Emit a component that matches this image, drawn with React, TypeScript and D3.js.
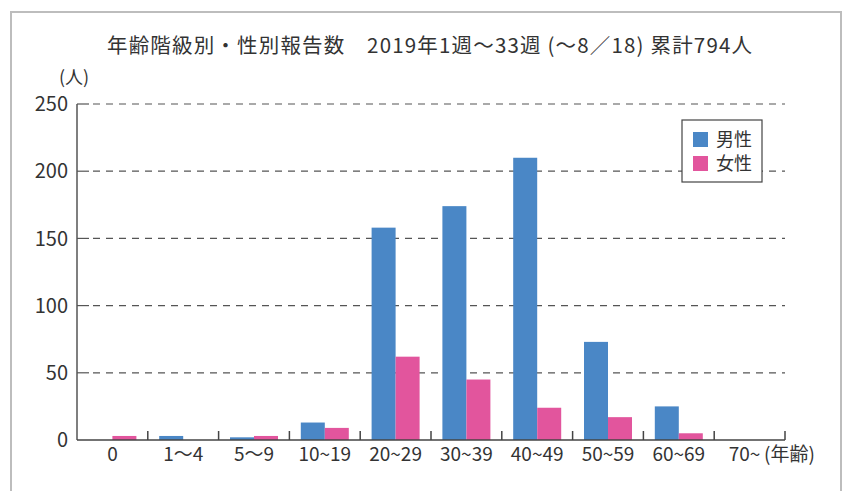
import React, { useEffect, useRef } from "react"
import * as d3 from "d3"

const ageGroups = ["0", "1～4", "5～9", "10~19", "20~29", "30~39", "40~49", "50~59", "60~69", "70~"]
const maleCounts = [0, 3, 2, 13, 158, 174, 210, 73, 25, 0]
const femaleCounts = [3, 0, 3, 9, 62, 45, 24, 17, 5, 0]
const seriesNames = ["男性", "女性"]
const seriesColors = ["#4a87c6", "#e2559d"]
const yTicks = [0, 50, 100, 150, 200, 250]
const title = "年齢階級別・性別報告数　2019年1週～33週 (～8／18) 累計794人"

const FONT = "'Noto Sans CJK JP', 'Noto Sans', sans-serif"

const App = () => {
    const chartRef = useRef<SVGSVGElement | null>(null)

    useEffect(() => {
        renderChart()
    }, [])

    function renderChart() {
        if (!chartRef.current) return
        const svg = d3.select(chartRef.current)
        svg.selectAll("*").remove()

        const left = 77
        const right = 785
        const top = 104
        const bottom = 440

        // frame around the figure
        svg.append("path")
            .attr("d", "M11,491V12H841V491")
            .attr("fill", "none")
            .attr("stroke", "#bdbdbd")
            .attr("stroke-width", 2)

        const x = d3.scaleBand<string>().domain(ageGroups).range([left, right]).padding(0)
        const sub = d3
            .scaleBand<number>()
            .domain([0, 1])
            .range([0, x.bandwidth()])
            .paddingInner(0)
            .paddingOuter(0.475)
        const y = d3.scaleLinear().domain([0, 250]).range([bottom, top])

        svg.append("text")
            .attr("x", 107)
            .attr("y", 53)
            .attr("font-family", FONT)
            .attr("font-size", 20.5)
            .attr("textLength", 645)
            .attr("lengthAdjust", "spacing")
            .attr("fill", "#333")
            .text(title)

        svg.append("text")
            .attr("x", 59)
            .attr("y", 84)
            .attr("font-family", FONT)
            .attr("font-size", 18)
            .attr("fill", "#333")
            .text("(人)")

        // gridlines
        const grid = svg.append("g")
        yTicks.filter((t) => t > 0).forEach((t) => {
            grid.append("line")
                .attr("x1", left)
                .attr("x2", left + 12)
                .attr("y1", y(t))
                .attr("y2", y(t))
                .attr("stroke", "#555")
                .attr("stroke-width", 1.2)
            grid.append("line")
                .attr("x1", left + 16)
                .attr("x2", right)
                .attr("y1", y(t))
                .attr("y2", y(t))
                .attr("stroke", "#555")
                .attr("stroke-width", 1.2)
                .attr("stroke-dasharray", "7,6")
        })

        svg.append("g")
            .selectAll("text")
            .data(yTicks)
            .enter()
            .append("text")
            .attr("x", 68)
            .attr("y", (d) => y(d))
            .attr("dy", "0.36em")
            .attr("text-anchor", "end")
            .attr("font-family", FONT)
            .attr("font-size", 20)
            .attr("fill", "#333")
            .text((d) => d)

        // bars
        const series = [maleCounts, femaleCounts]
        series.forEach((vals, si) => {
            svg.append("g")
                .selectAll("rect")
                .data(vals)
                .enter()
                .append("rect")
                .attr("x", (d, i) => (x(ageGroups[i]) as number) + (sub(si) as number))
                .attr("y", (d) => y(d))
                .attr("width", sub.bandwidth())
                .attr("height", (d) => bottom - y(d))
                .attr("fill", seriesColors[si])
        })

        // axes
        svg.append("line")
            .attr("x1", left)
            .attr("x2", left)
            .attr("y1", top)
            .attr("y2", bottom)
            .attr("stroke", "#555")
            .attr("stroke-width", 1.5)
        svg.append("line")
            .attr("x1", left)
            .attr("x2", right)
            .attr("y1", bottom)
            .attr("y2", bottom)
            .attr("stroke", "#444")
            .attr("stroke-width", 1.5)

        const bounds = ageGroups.slice(1).map((g) => x(g) as number).concat([right])
        svg.append("g")
            .selectAll("line")
            .data(bounds)
            .enter()
            .append("line")
            .attr("x1", (d) => d)
            .attr("x2", (d) => d)
            .attr("y1", bottom)
            .attr("y2", bottom - 9)
            .attr("stroke", "#444")
            .attr("stroke-width", 1.5)

        svg.append("g")
            .selectAll("text")
            .data(ageGroups)
            .enter()
            .append("text")
            .attr("x", (d) => (x(d) as number) + x.bandwidth() / 2 - (d === "70~" ? 5 : 0))
            .attr("y", 461)
            .attr("text-anchor", "middle")
            .attr("font-family", FONT)
            .attr("font-size", 19)
            .attr("fill", "#333")
            .text((d) => d)

        svg.append("text")
            .attr("x", 764)
            .attr("y", 461)
            .attr("font-family", FONT)
            .attr("font-size", 19)
            .attr("fill", "#333")
            .text("(年齢)")

        // legend
        const lg = svg.append("g").attr("transform", "translate(682,120)")
        lg.append("rect")
            .attr("width", 80)
            .attr("height", 62)
            .attr("fill", "#fff")
            .attr("stroke", "#444")
            .attr("stroke-width", 1.2)
        seriesNames.forEach((name, i) => {
            lg.append("rect")
                .attr("x", 11)
                .attr("y", 12 + i * 24)
                .attr("width", 15)
                .attr("height", 15)
                .attr("fill", seriesColors[i])
            lg.append("text")
                .attr("x", 34)
                .attr("y", 19.5 + i * 24)
                .attr("dy", "0.36em")
                .attr("font-family", FONT)
                .attr("font-size", 18)
                .attr("fill", "#333")
                .text(name)
        })
    }

    return (
        <svg
            ref={chartRef}
            width={844}
            height={491}
            style={{ position: "absolute", left: 0, top: 0, background: "#fff" }}
        />
    )
}

export default App
